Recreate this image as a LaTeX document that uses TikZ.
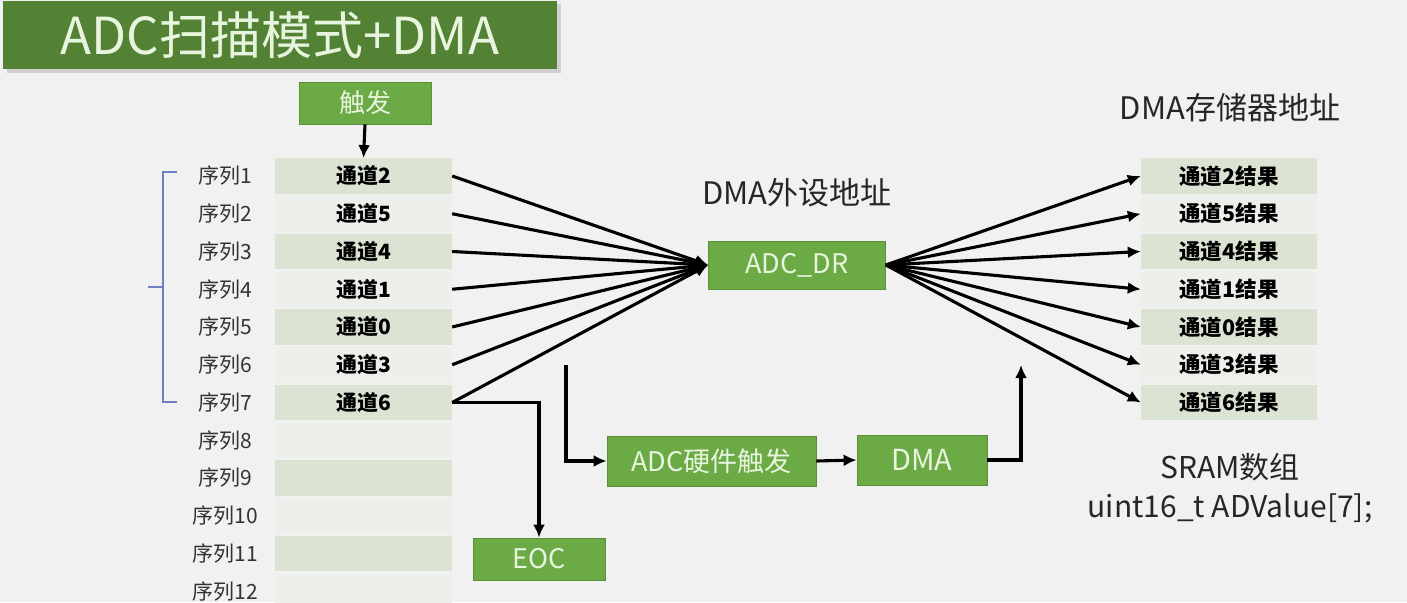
\documentclass[tikz,border=0pt]{standalone}
\usepackage{fontspec}
\setmainfont{Noto Sans CJK SC}
\usetikzlibrary{arrows.meta}
\definecolor{bgGray}{HTML}{F1F1F1}
\definecolor{titleGreen}{HTML}{548235}
\definecolor{boxGreen}{HTML}{6BAA45}
\definecolor{boxText}{HTML}{E8F5DE}
\definecolor{cellDark}{HTML}{DBE4D2}
\definecolor{cellLight}{HTML}{EDF0EA}
\definecolor{braceBlue}{HTML}{6D80C6}

\begin{document}
\begin{tikzpicture}[x=1pt,y=-1pt,
  greenbox/.style={fill=boxGreen, draw=boxGreen!85!black, line width=0.8pt, text=boxText,
    inner sep=0pt, font=\fontsize{27}{30}\selectfont},
  cell/.style={minimum width=177pt, minimum height=35.5pt, inner sep=0pt,
    font=\bfseries\fontsize{21}{24}\selectfont},
  rescell/.style={cell, minimum width=176pt, font=\bfseries\fontsize{21.5}{24}\selectfont},
  seqlabel/.style={font=\fontsize{21}{24}\selectfont, text=black!80},
  heading/.style={font=\fontsize{31}{39}\selectfont, text=black!85},
  conn/.style={-{Latex[length=13pt,width=12pt]}, line width=3.1pt},
]
	%Background
	\useasboundingbox (0,0) rectangle (1407,602);
	\fill[bgGray] (0,0) rectangle (1407,602);
	
	%Title
	\fill[black!18] (7,4) rectangle (561,73);
	\node[fill=titleGreen, minimum width=554pt, minimum height=68pt, inner sep=0pt,
	  text=boxText, font=\fontsize{51}{56}\selectfont] (title) at (280,35) {ADC扫描模式+DMA};
	
	%Sequence table
	\foreach \i/\ch in {1/2,2/5,3/4,4/1,5/0,6/3,7/6}{
		\pgfmathsetmacro\ry{176+37.75*(\i-1)}
		\ifodd\i \def\cf{cellDark}\else\def\cf{cellLight}\fi
		\node[cell, fill=\cf] (c\i) at (363.5,\ry) {通道\ch};
		\node[seqlabel] (s\i) at (225,\ry) {序列\i};
	}
	\foreach \i in {8,...,12}{
		\pgfmathsetmacro\ry{176+37.75*(\i-1)}
		\ifodd\i \def\cf{cellDark}\else\def\cf{cellLight}\fi
		\node[cell, fill=\cf] (c\i) at (363.5,\ry) {};
		\node[seqlabel] (s\i) at (225,\ry) {序列\i};
	}
	
	%Bracket
	\draw[braceBlue, line width=1.3pt] (177,172) -- (163,172) -- (163,402) -- (177,402);
	\draw[braceBlue, line width=1.3pt] (163,287) -- (148,287);
	
	%Trigger
	\node[greenbox, minimum width=132pt, minimum height=42pt, font=\fontsize{26}{28}\selectfont]
	  (trig) at (365,103) {触发};
	\draw[conn] (trig.south) -- (c1.north);
	
	%Peripheral address
	\node[heading] (periph) at (797,193) {DMA外设地址};
	\node[greenbox, minimum width=177pt, minimum height=48pt] (dr) at (797,265) {ADC\_DR};
	
	%Result table
	\node[heading] (mem) at (1230,108) {DMA存储器地址};
	\foreach \i/\ch in {1/2,2/5,3/4,4/1,5/0,6/3,7/6}{
		\pgfmathsetmacro\ry{176+37.75*(\i-1)}
		\ifodd\i \def\cf{cellDark}\else\def\cf{cellLight}\fi
		\node[rescell, fill=\cf] (r\i) at (1229,\ry) {通道\ch 结果};
	}
	\node[heading, align=center, font=\fontsize{30}{39}\selectfont] (sram) at (1230,488)
	  {SRAM数组\\uint16\_t ADValue[7];};
	
	%Lines
	\foreach \i in {1,...,7}{
		\draw[conn] (c\i.east) -- (dr.west);
		\draw[conn] (dr.east) -- (r\i.west);
	}
	
	%EOC
	\node[greenbox, minimum width=132pt, minimum height=42pt] (eoc) at (539,559) {EOC};
	\draw[conn] (c7.east) -| (eoc.north);
	
	%Hardware trigger and DMA
	\node[greenbox, minimum width=209pt, minimum height=50pt] (hw) at (711.5,461) {ADC硬件触发};
	\node[greenbox, minimum width=130pt, minimum height=50pt, font=\fontsize{29}{32}\selectfont]
	  (dma) at (922,460) {DMA};
	\coordinate (hwin) at (566,365);
	\coordinate (dmaout) at (1021,365);
	\draw[conn] (hwin) |- (hw.west);
	\draw[conn] (hw.east) -- (dma.west);
	\draw[conn] (dma.east) -| (dmaout);
\end{tikzpicture}
\end{document}
